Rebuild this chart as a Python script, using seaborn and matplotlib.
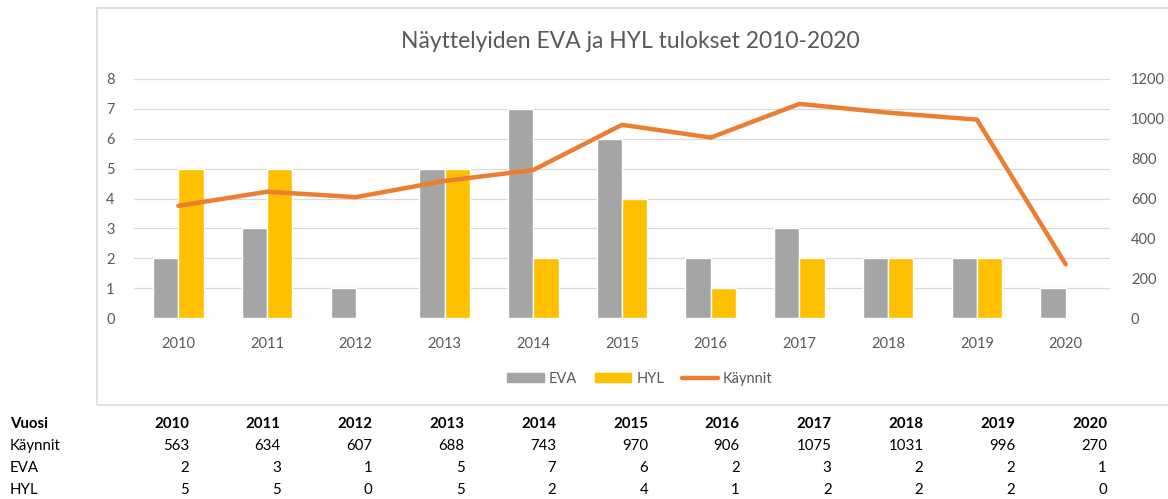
import numpy as np
import pandas as pd
import matplotlib
matplotlib.use("Agg")
import matplotlib.pyplot as plt
from matplotlib.patches import Patch, Rectangle
from matplotlib.lines import Line2D
import seaborn as sns

YEARS = ["2010", "2011", "2012", "2013", "2014", "2015", "2016", "2017", "2018", "2019", "2020"]
KAYNNIT = [563, 634, 607, 688, 743, 970, 906, 1075, 1031, 996, 270]
EVA = [2, 3, 1, 5, 7, 6, 2, 3, 2, 2, 1]
HYL = [5, 5, 0, 5, 2, 4, 1, 2, 2, 2, 0]

GREY = "#A5A5A5"
YELLOW = "#FFC000"
ORANGE = "#ED7D31"
TXT = "#595959"

sns.set_theme(style="white")
plt.rcParams["font.family"] = ["Lato", "DejaVu Sans"]

W, H = 1168, 499
fig = plt.figure(figsize=(W / 100, H / 100), dpi=100)


def fx(px):
    return px / W


def fy(py):
    return 1 - py / H


# chart frame
fig.patches.append(Rectangle((fx(97), fy(405)), fx(1200) - fx(97), fy(8) - fy(405),
                             transform=fig.transFigure, fill=False,
                             edgecolor="#D9D9D9", lw=1.2))

ax = fig.add_axes([fx(134), fy(318), fx(1110) - fx(134), fy(79) - fy(318)])

df = pd.DataFrame({
    "year": YEARS * 2,
    "value": EVA + HYL,
    "series": ["EVA"] * len(YEARS) + ["HYL"] * len(YEARS),
})
sns.barplot(data=df, x="year", y="value", hue="series",
            palette={"EVA": GREY, "HYL": YELLOW}, width=0.57, gap=0,
            saturation=1, legend=False, ax=ax, zorder=2)

ax.set_ylim(0, 8)
ax.set_yticks(range(0, 9))
ax.set_xlim(-0.5, len(YEARS) - 0.5)
ax.grid(axis="y", color="#D9D9D9", lw=0.9, zorder=0)
ax.set_axisbelow(True)
ax.set_xlabel("")
ax.set_ylabel("")
for s in ax.spines.values():
    s.set_visible(False)
ax.tick_params(axis="both", length=0, colors=TXT, labelsize=10.5)
ax.tick_params(axis="x", pad=14)
ax.tick_params(axis="y", pad=14)

ax2 = ax.twinx()
sns.lineplot(x=np.arange(len(YEARS)), y=KAYNNIT, ax=ax2, color=ORANGE, lw=3.2)
ax2.set_ylim(0, 1200)
ax2.set_yticks(range(0, 1201, 200))
ax2.grid(False)
for s in ax2.spines.values():
    s.set_visible(False)
ax2.tick_params(axis="y", length=0, colors=TXT, labelsize=10.5, pad=15)

fig.text(fx(630), fy(42), "Näyttelyiden EVA ja HYL tulokset 2010-2020",
         ha="center", va="center", fontsize=16.5, color=TXT)

handles = [Patch(color=GREY, label="EVA"), Patch(color=YELLOW, label="HYL"),
           Line2D([], [], color=ORANGE, lw=3.2, label="Käynnit")]
fig.legend(handles=handles, loc="center", bbox_to_anchor=(fx(640), fy(379)),
           ncol=3, frameon=False, fontsize=10.5, labelcolor=TXT,
           handlelength=2.5, handleheight=0.6, handletextpad=0.35, columnspacing=1.2)

# data table below the chart
rows = [("Vuosi", YEARS, True), ("Käynnit", KAYNNIT, False),
        ("EVA", EVA, False), ("HYL", HYL, False)]
for r, (label, vals, bold) in enumerate(rows):
    y = fy(424 + 22 * r)
    fig.text(fx(10), y, label, ha="left", va="center", fontsize=10.8,
             color="black", fontweight="bold" if bold else "normal")
    for k, v in enumerate(vals):
        fig.text(fx(189 + 91.8 * k), y, str(v), ha="right", va="center",
                 fontsize=10.8, color="black",
                 fontweight="bold" if bold else "normal")

fig.savefig("out.png", dpi=100)
